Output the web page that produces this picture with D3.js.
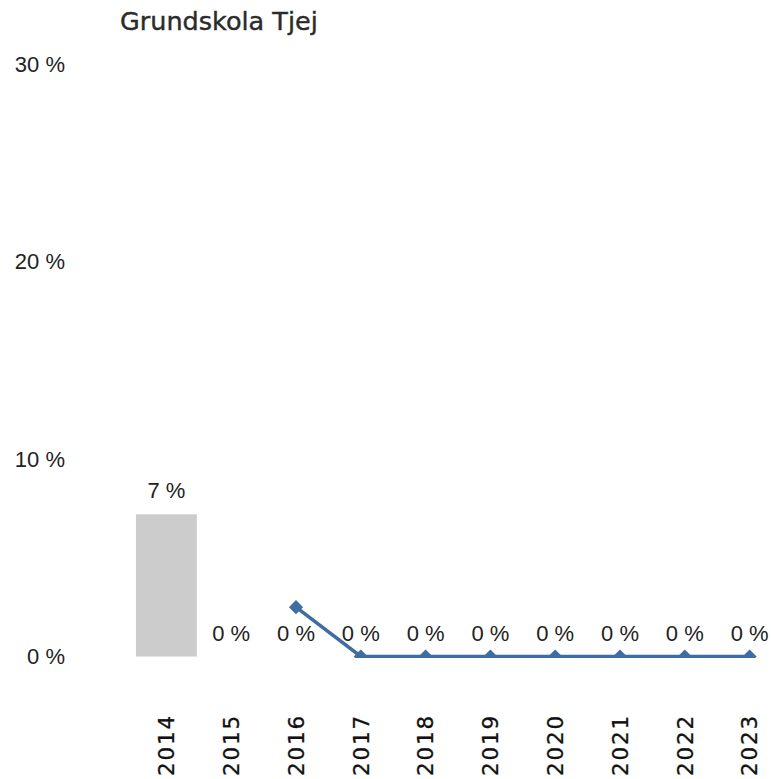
<!DOCTYPE html>
<html>
<head>
<meta charset="utf-8">
<script src="https://cdn.jsdelivr.net/npm/d3@7"></script>
<style>
  body { margin: 0; background: #fff; }
  svg { display: block; }
</style>
</head>
<body>
<div id="chart"></div>
<script>
// data
const years = ["2014", "2015", "2016", "2017", "2018", "2019", "2020", "2021", "2022", "2023"];
const barValues = [7.2, 0, 0, 0, 0, 0, 0, 0, 0, 0];
const barLabels = ["7 %", "0 %", "0 %", "0 %", "0 %", "0 %", "0 %", "0 %", "0 %", "0 %"];
const lineValues = [null, null, 2.5, 0, 0, 0, 0, 0, 0, 0];
const yTicks = [0, 10, 20, 30];
const title = "Grundskola Tjej";

const width = 771, height = 779;

const svg = d3.select("#chart")
    .append("svg")
    .attr("width", width)
    .attr("height", height);

// scales
const x = d3.scaleBand()
    .domain(years)
    .range([134, 782])
    .paddingInner(0.06)
    .paddingOuter(0.03);

const y = d3.scaleLinear()
    .domain([0, 30])
    .range([656.5, 64]);

// title
svg.append("text")
    .attr("x", 120)
    .attr("y", 30)
    .attr("font-family", "'DejaVu Sans', sans-serif")
    .attr("font-size", 25.5)
    .attr("fill", "#2b2b2b")
    .attr("stroke", "#2b2b2b")
    .attr("stroke-width", 0.4)
    .text(title);

// y axis labels (no line, no ticks)
const yAxis = d3.axisLeft(y).tickValues(yTicks).tickSize(0).tickPadding(0)
    .tickFormat(d => d + " %");
svg.append("g")
    .attr("class", "yAxis")
    .attr("transform", "translate(65,0)")
    .call(yAxis)
    .call(g => g.select(".domain").remove())
    .call(g => g.selectAll("text")
        .attr("font-family", "'Liberation Sans', Arial, sans-serif")
        .attr("font-size", 22)
        .attr("fill", "#222"));

// x axis labels, rotated
const xAxis = d3.axisBottom(x).tickSize(0).tickPadding(0);
svg.append("g")
    .attr("class", "xAxis")
    .attr("transform", "translate(0,776)")
    .call(xAxis)
    .call(g => g.select(".domain").remove())
    .call(g => g.selectAll("text")
        .attr("transform", "rotate(-90)")
        .attr("text-anchor", "start")
        .attr("x", 0)
        .attr("y", 0)
        .attr("dy", "0.36em")
        .attr("font-family", "'DejaVu Sans', sans-serif")
        .attr("font-size", 21.5)
        .attr("letter-spacing", 1.8)
        .attr("fill", "#111")
        .attr("stroke", "#111")
        .attr("stroke-width", 0.3));

// plot
const plot = svg.append("g").attr("id", "plot");

plot.selectAll(".bar")
    .data(years)
    .enter()
    .append("rect")
    .attr("class", "bar")
    .attr("x", d => x(d))
    .attr("width", x.bandwidth())
    .attr("y", (d, i) => y(barValues[i]))
    .attr("height", (d, i) => y(0) - y(barValues[i]))
    .attr("fill", "#cccccc");

// clip line at the zero baseline
svg.append("clipPath")
    .attr("id", "plotClip")
    .append("rect")
    .attr("x", 0)
    .attr("y", 0)
    .attr("width", width)
    .attr("height", y(0) + 1.5);

const pts = years.map((d, i) => ({year: d, v: lineValues[i]}));
const line = d3.line()
    .defined(d => d.v !== null)
    .x(d => x(d.year) + x.bandwidth() / 2)
    .y(d => y(d.v));

const lineG = plot.append("g").attr("clip-path", "url(#plotClip)");

lineG.append("path")
    .datum(pts)
    .attr("d", line)
    .attr("fill", "none")
    .attr("stroke", "#3e6da4")
    .attr("stroke-width", 3.5);

lineG.selectAll(".marker")
    .data(pts.filter(d => d.v !== null))
    .enter()
    .append("path")
    .attr("class", "marker")
    .attr("d", d3.symbol().type(d3.symbolSquare).size(100))
    .attr("transform", d => "translate(" + (x(d.year) + x.bandwidth() / 2) + "," + y(d.v) + ") rotate(45)")
    .attr("fill", "#3e6da4");

// value labels above bars
plot.selectAll(".label")
    .data(years)
    .enter()
    .append("text")
    .attr("class", "label")
    .attr("x", d => x(d) + x.bandwidth() / 2)
    .attr("y", (d, i) => y(barValues[i]) - 16)
    .attr("text-anchor", "middle")
    .attr("font-family", "'Liberation Sans', Arial, sans-serif")
    .attr("font-size", 22)
    .attr("fill", "#222")
    .text((d, i) => barLabels[i]);
</script>
</body>
</html>
